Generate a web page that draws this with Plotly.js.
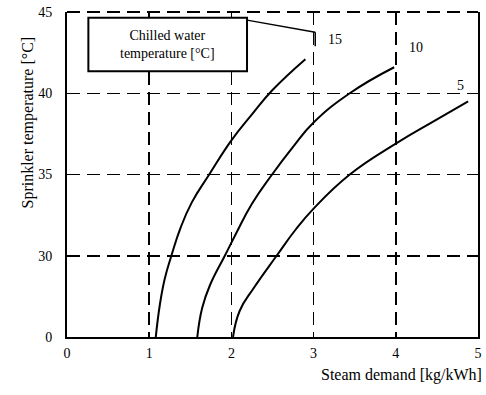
<!DOCTYPE html>
<html><head><meta charset="utf-8">
<script src="https://cdn.plot.ly/plotly-3.0.1.min.js"></script>
<style>html,body{margin:0;padding:0;background:#fff}</style>
</head><body>
<div id="chart" style="width:486px;height:395px"></div>
<script>
const xTickVals = [0, 1, 2, 3, 4, 5];
const xTickText = ["0", "1", "2", "3", "4", "5"];
const yTickVals = [25, 30, 35, 40, 45];
const yTickText = ["0", "30", "35", "40", "45"];

const seriesNames = ["15", "10", "5"];
const x15 = [1.08, 1.13, 1.19, 1.27, 1.38, 1.52, 1.73, 2.0, 2.25, 2.5, 2.9];
const y15 = [25, 27.0, 28.6, 30, 31.7, 33.3, 35, 37.1, 38.7, 40.2, 42.1];
const x10 = [1.585, 1.645, 1.74, 1.92, 2.06, 2.25, 2.495, 2.75, 3.0, 3.44, 3.98];
const y10 = [25, 26.8, 28.2, 30, 31.4, 33.2, 35, 36.7, 38.2, 40, 41.6];
const x5 = [2.02, 2.1, 2.27, 2.55, 2.78, 3.0, 3.44, 4.0, 4.47, 4.88];
const y5 = [25, 26.6, 28.0, 30, 31.6, 32.9, 35, 36.9, 38.3, 39.5];

const font = {family: "Liberation Serif, serif", color: "#000", size: 14};
const line = {color: "#000", width: 2, shape: "spline", smoothing: 1.3};
const gridDash = "13px,7px";

const traces = [
  {x: x15, y: y15, name: seriesNames[0], mode: "lines", line: line},
  {x: x10, y: y10, name: seriesNames[1], mode: "lines", line: line},
  {x: x5, y: y5, name: seriesNames[2], mode: "lines", line: line}
];

const layout = {
  width: 486, height: 395,
  margin: {l: 67, r: 8, t: 12, b: 58},
  paper_bgcolor: "#fff", plot_bgcolor: "#fff",
  showlegend: false,
  font: font,
  xaxis: {
    range: [0, 5], tickvals: xTickVals, ticktext: xTickText,
    showgrid: true, gridcolor: "#000", gridwidth: 1.5, griddash: gridDash,
    showline: true, linecolor: "#000", linewidth: 2, mirror: false,
    ticks: "", zeroline: false, tickfont: {size: 14}, ticklabelstandoff: 2
  },
  yaxis: {
    range: [25, 45], tickvals: yTickVals, ticktext: yTickText,
    showgrid: true, gridcolor: "#000", gridwidth: 1.5, griddash: gridDash,
    showline: true, linecolor: "#000", linewidth: 2, mirror: true,
    ticks: "", zeroline: false, tickfont: {size: 14}, ticklabelstandoff: 10
  },
  shapes: [
    {type: "line", xref: "paper", yref: "paper", x0: 0, x1: 1, y0: 1, y1: 1,
     line: {color: "#000", width: 2, dash: gridDash}},
    {type: "rect", xref: "x", yref: "y", x0: 0.26, x1: 2.19, y0: 41.35, y1: 44.65,
     line: {color: "#000", width: 2}, fillcolor: "#fff"},
    {type: "line", xref: "x", yref: "y", x0: 2.19, y0: 44.5, x1: 3.02, y1: 43.75,
     line: {color: "#000", width: 1.5}},
    {type: "line", xref: "x", yref: "y", x0: 3.02, y0: 43.75, x1: 3.02, y1: 42.9,
     line: {color: "#000", width: 1.5}}
  ],
  annotations: [
    {x: 1.22, y: 43.0, xref: "x", yref: "y", text: "Chilled water<br>temperature [°C]",
     showarrow: false, align: "center", font: {size: 14}},
    {x: 3.26, y: 43.3, xref: "x", yref: "y", text: "15", showarrow: false, font: {size: 14}},
    {x: 4.25, y: 42.8, xref: "x", yref: "y", text: "10", showarrow: false, font: {size: 14}},
    {x: 4.79, y: 40.5, xref: "x", yref: "y", text: "5", showarrow: false, font: {size: 14}},
    {x: 1, y: 0, xref: "paper", yref: "paper", yshift: -38, xshift: 6, xanchor: "right", yanchor: "middle",
     text: "Steam demand [kg/kWh]", showarrow: false, font: {size: 16}},
    {x: 0, y: 0.66, xref: "paper", yref: "paper", xshift: -50, textangle: -90,
     text: "Sprinkler temperature [°C]", showarrow: false, font: {size: 16}}
  ]
};

Plotly.newPlot("chart", traces, layout, {displayModeBar: false, staticPlot: true});
</script>
</body></html>
